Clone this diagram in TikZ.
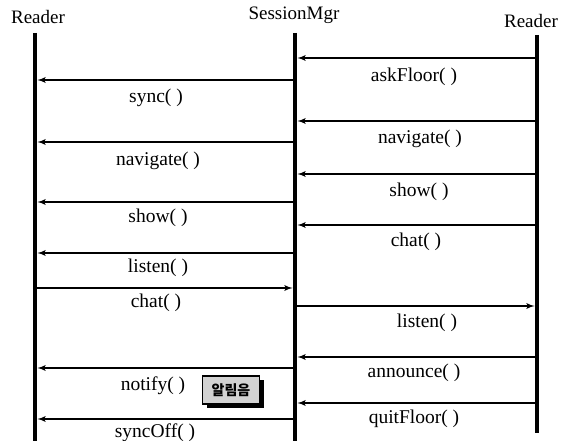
\documentclass[tikz,border=0pt]{standalone}
\usepackage{fontspec}
\setmainfont{Liberation Serif}
\newfontfamily\krfont{Noto Sans CJK KR}
\usepackage{tikz}
\usetikzlibrary{arrows}
\usetikzlibrary{positioning}
\usetikzlibrary{shadows}
\tikzstyle{every node}+=[inner sep=0pt]
\tikzstyle{actor} = [font=\fontsize{19}{19}\selectfont]
\tikzstyle{lifeline} = [draw, line width=4.5pt]
\tikzstyle{line} = [draw, line width=1.8pt, -latex']
\tikzstyle{msg} = [font=\fontsize{19.5}{20}\selectfont]
\tikzstyle{badge} = [draw, line width=1.8pt, fill=gray!35, minimum width=57pt, minimum height=28pt, font=\krfont\bfseries\fontsize{14}{14}\selectfont, drop shadow={shadow xshift=4pt, shadow yshift=-4pt, fill=black, opacity=1}]

\begin{document}
\begin{tikzpicture}[x=1pt, y=-1pt]
            \useasboundingbox (0,0) rectangle (566,441);
            % Place actors
            \node [actor] (rdL) at (38,17) {Reader};
            \node [actor] (mgr) at (294,15) {SessionMgr};
            \node [actor] (rdR) at (531,21) {Reader};
            % Lifelines
            \coordinate (topL) at (35,33);
            \coordinate (botL) at (35,441);
            \coordinate (topM) at (295,33);
            \coordinate (botM) at (295,441);
            \coordinate (topR) at (537,35);
            \coordinate (botR) at (537,433);
            \path [lifeline] (topL) -- (botL);
            \path [lifeline] (topM) -- (botM);
            \path [lifeline] (topR) -- (botR);
            % Draw messages
            \foreach \n/\y/\from/\to/\lx/\ly/\txt in {
                a/58/537/297.5/414/77/askFloor( ),
                b/121/537/297.5/420/139/navigate( ),
                c/174/537/297.5/419/192/show( ),
                d/225/537/297.5/416/242/chat( ),
                e/306/295/534.5/427/323/listen( ),
                f/357/537/297.5/414/373/announce( ),
                g/403/537/297.5/414/419/quitFloor( ),
                h/80/295/37.5/156/98/sync( ),
                i/142/295/37.5/158/161/navigate( ),
                j/202/295/37.5/158/218/show( ),
                k/253/295/37.5/158/268/listen( ),
                l/288/35/292.5/156/303/chat( ),
                m/368/295/37.5/153/386/notify( ),
                n/419/295/37.5/155/433/syncOff( )} {
              \coordinate (s\n) at (\from,\y);
              \coordinate (e\n) at (\to,\y);
              \path [line] (s\n) -- (e\n);
              \node [msg] (t\n) at (\lx,\ly) {\txt};
            }
            \node [badge] (bell) at (231,390) {알림음};
          \end{tikzpicture}
\end{document}
